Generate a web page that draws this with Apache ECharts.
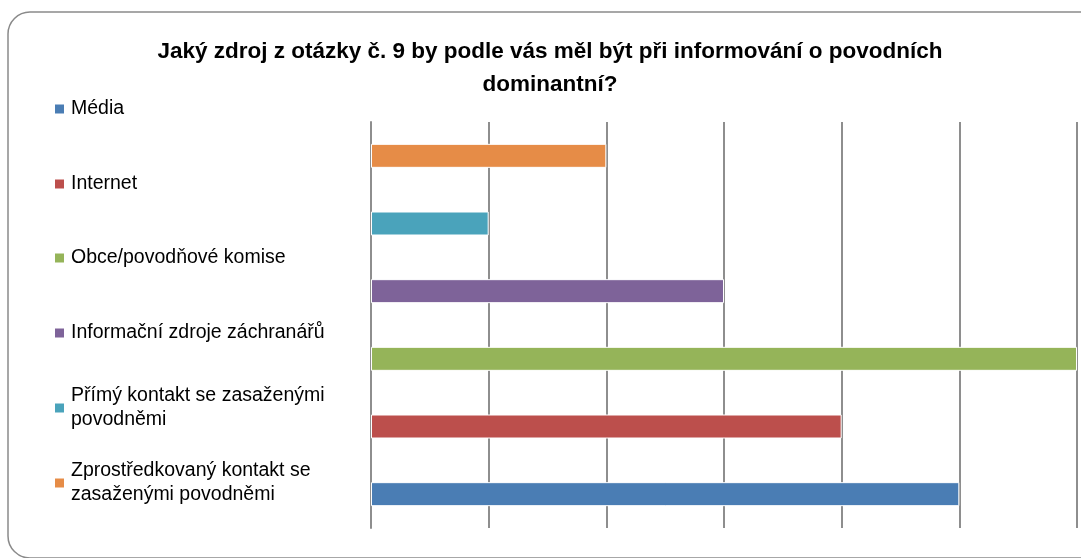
<!DOCTYPE html>
<html><head><meta charset="utf-8">
<script src="https://cdn.jsdelivr.net/npm/echarts@6/dist/echarts.min.js"></script>
<style>html,body{margin:0;padding:0;background:#fff}#c{width:1081px;height:558px}</style>
</head><body><div id="c"></div>
<script>
const titleText = 'Jaký zdroj z otázky č. 9 by podle vás měl být při informování o povodních\ndominantní?';
const seriesNames = ['Média', 'Internet', 'Obce/povodňové komise', 'Informační zdroje záchranářů', 'Přímý kontakt se zasaženými povodněmi', 'Zprostředkovaný kontakt se zasaženými povodněmi'];
const legendLabels = ['Média', 'Internet', 'Obce/povodňové komise', 'Informační zdroje záchranářů', 'Přímý kontakt se zasaženými\npovodněmi', 'Zprostředkovaný kontakt se\nzasaženými povodněmi'];
const values = [5, 4, 6, 3, 1, 2];
const colors = ['#4A7DB4', '#BC4F4C', '#95B459', '#7E6399', '#4AA3BB', '#E68C47'];
const categories = ['1', '2', '3', '4', '5', '6'];
const xTicks = [0, 1, 2, 3, 4, 5, 6];

const legendCenters = [109, 184, 258, 333, 408, 483];
const FONT = 'Liberation Sans';

const chart = echarts.init(document.getElementById('c'), null, {renderer: 'canvas'});
const series = seriesNames.map((n, i) => ({
  name: n, type: 'bar', barWidth: 24, barGap: '-100%',
  itemStyle: {color: colors[i], borderColor: '#ffffff', borderWidth: 1},
  data: categories.map((c, j) => j === i ? values[i] : null)
}));
const legends = seriesNames.map((n, i) => {
  const twoLine = legendLabels[i].indexOf('\n') >= 0;
  return {
    left: 55, top: twoLine ? legendCenters[i] - 36 : legendCenters[i] - 12,
    padding: 0, itemWidth: 9, itemHeight: 9, itemGap: 0, icon: 'rect',
    selectedMode: false,
    itemStyle: {borderWidth: 0},
    formatter: () => legendLabels[i],
    textStyle: {fontFamily: FONT, fontSize: 19.5, color: '#000', lineHeight: 24, padding: twoLine ? [24, 0, 0, 2] : [0, 0, 0, 2]},
    data: [n]
  };
});
chart.setOption({
  animation: false,
  color: colors,
  title: {text: titleText, left: 545, top: 30, textAlign: 'center',
    textStyle: {fontFamily: FONT, fontSize: 22.5, fontWeight: 'bold', color: '#000', lineHeight: 33}},
  legend: legends,
  graphic: [{type: 'rect', shape: {x: 8, y: 12, width: 1095, height: 546, r: 22},
    style: {fill: 'none', stroke: '#8a8a8a', lineWidth: 1.5}, silent: true}],
  grid: {left: 371, right: 4, top: 122, bottom: 30},
  xAxis: {type: 'value', min: xTicks[0], max: xTicks[xTicks.length - 1], interval: 1,
    axisLabel: {show: false}, axisTick: {show: false}, axisLine: {show: false},
    splitLine: {show: true, lineStyle: {color: '#8e8e8e', width: 2}}},
  yAxis: {type: 'category', data: categories,
    axisLabel: {show: false}, axisTick: {show: false},
    axisLine: {show: true, lineStyle: {color: '#8e8e8e', width: 2}}},
  series: series
});
</script></body></html>
